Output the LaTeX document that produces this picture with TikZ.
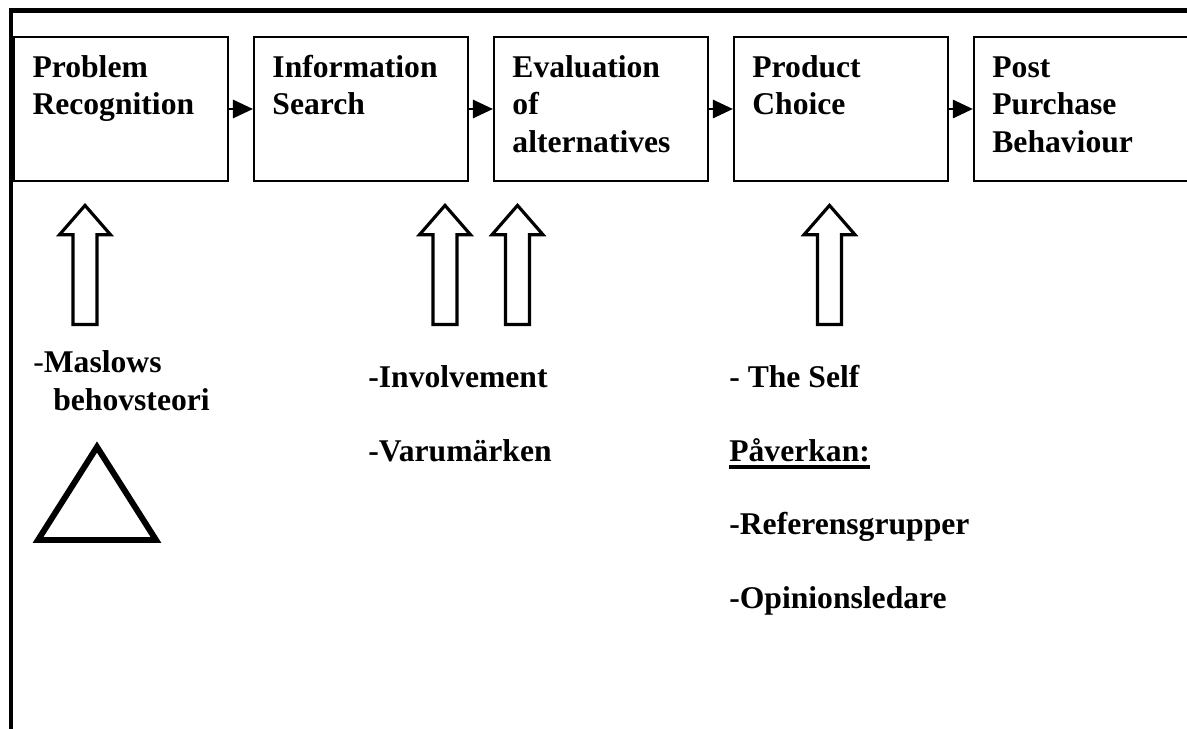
\documentclass[tikz,border=0pt]{standalone}
\usepackage{fontspec}
\setmainfont{Liberation Serif}
\usetikzlibrary{arrows.meta, positioning}

% top-aligned text inside a stage box
\newcommand{\stagetext}[1]{\parbox[c][2.312cm][t]{4.28cm}{\raggedright\leftskip=0.37cm\strut#1}}
% thick underline
\newcommand{\undl}[1]{\setbox0\hbox{#1}\rlap{\rule[-4.3pt]{\wd0}{1.9pt}}\box0}

\begin{document}
\begin{tikzpicture}[
    x=0.02cm, y=-0.02cm,
    stage/.style={draw, line width=1.2pt, inner xsep=0pt, inner ysep=0.284cm,
                  minimum width=4.28cm, minimum height=2.88cm,
                  font=\fontsize{18}{21.3}\selectfont\bfseries},
    note/.style={anchor=base west, inner sep=0pt, font=\fontsize{18}{21.3}\selectfont\bfseries},
    hollowarrow/.pic={
      \draw[line width=1.8pt, line join=miter] (0,0) -- (25.5,29.3) -- (12,29.3) -- (12,119.1)
        -- (-12,119.1) -- (-12,29.3) -- (-25.5,29.3) -- cycle;
    },
    >={Triangle[length=0.4cm, width=0.37cm]}, node distance=0.478cm
  ]
    \clip (0,0) rectangle (1187,729);
    % frame
    \draw[line width=2.5pt] (10.8,729) -- (10.8,10.5) -- (1187,10.5);
    % stages
    \node[stage] (prob) at (121,109) {\stagetext{Problem\\Recognition}};
    \node[stage, right=of prob] (info) {\stagetext{Information\\Search}};
    \node[stage, right=of info] (eval) {\stagetext{Evaluation\\of\\alternatives}};
    \node[stage, right=of eval] (choice) {\stagetext{Product\\Choice}};
    \node[stage, right=of choice] (post) {\stagetext{Post\\Purchase\\Behaviour}};
    \draw[->, line width=0.8pt] (prob) -- (info);
    \draw[->, line width=0.8pt] (info) -- (eval);
    \draw[->, line width=0.8pt] (eval) -- (choice);
    \draw[->, line width=0.8pt] (choice) -- (post);
    % influences
    \pic at (85,205.4) {hollowarrow};
    \pic at (445,205.4) {hollowarrow};
    \pic at (517.5,205.4) {hollowarrow};
    \pic at (829.5,205.4) {hollowarrow};
    \node[note] (maslow) at (33,373) {\textmd{-}Maslows};
    \node[note] (behov) at (53,411) {behovsteori};
    \draw[line width=3.4pt, line join=miter] (97,447) -- (156,540) -- (38,540) -- cycle;
    \node[note] (invol) at (368,387.5) {-Involvement};
    \node[note] (varum) at (368,461.5) {-Varumärken};
    \node[note] (self) at (729,387.5) {- The Self};
    \node[note] (pav) at (729,461) {\undl{Påverkan:}};
    \node[note] (refgr) at (729,534.5) {-Referensgrupper};
    \node[note] (opin) at (729,608) {-Opinionsledare};
  \end{tikzpicture}
\end{document}
